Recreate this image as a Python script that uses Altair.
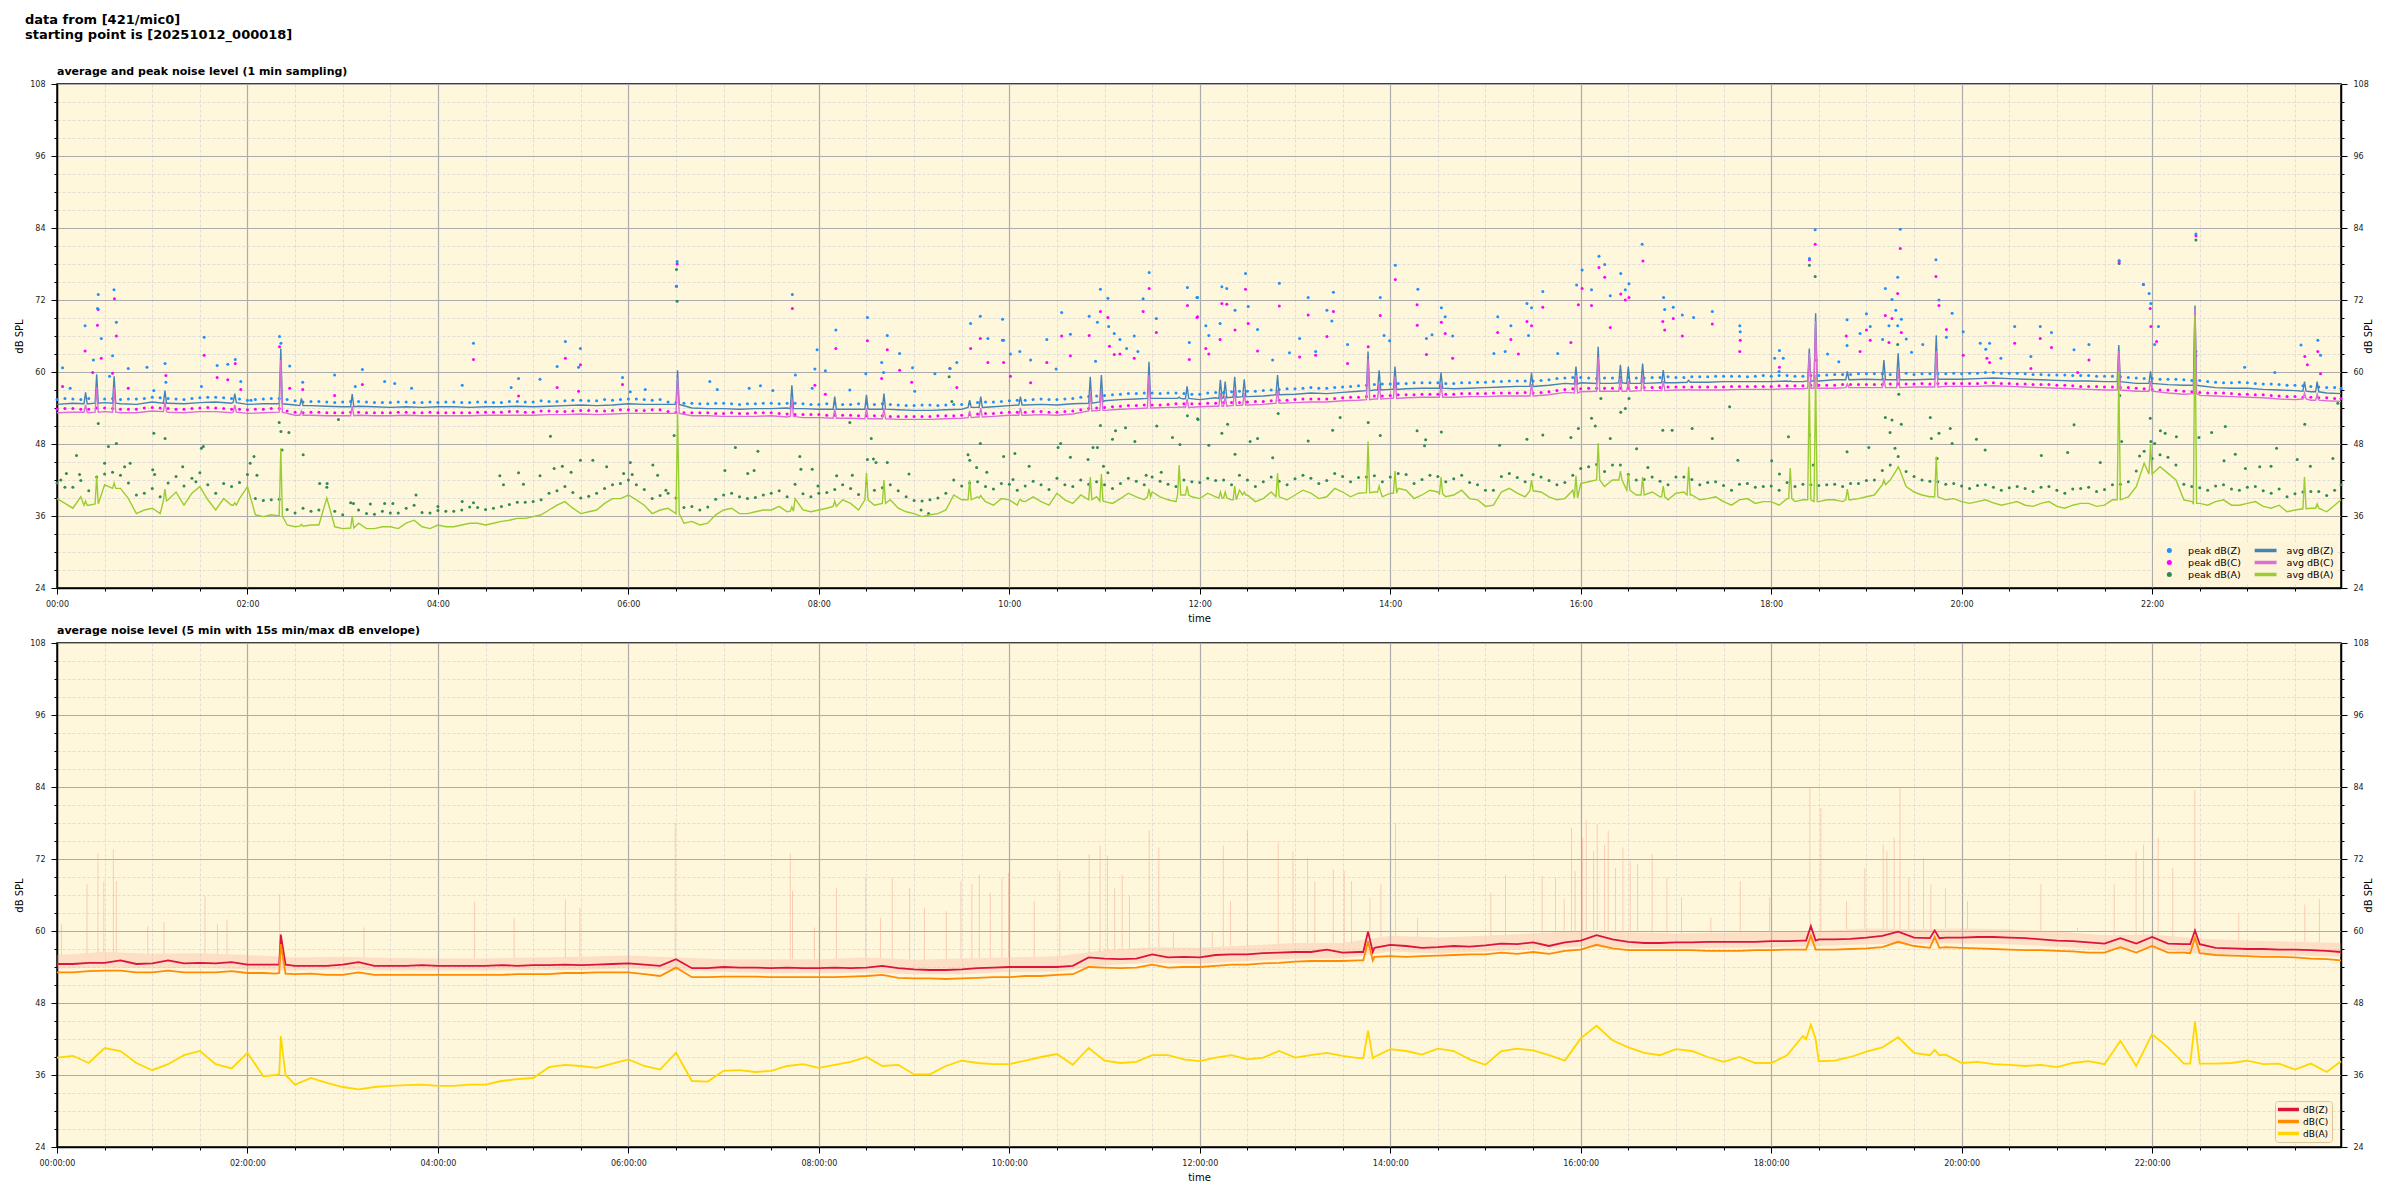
import altair as alt
import pandas as pd

# ---------------- sample positions (minutes after 00:00) ----------------
GRID = list(range(0, 1440, 10)) + [1439]
GRID5 = list(range(5, 1440, 10))
ENV_GRID = list(range(0, 1440, 30)) + [1439]
X_TICKS = list(range(0, 1440, 30))
Y_TICKS = list(range(24, 109, 3))

# ---------------- top panel: 1-min averages ----------------
AVG_Z = [54.6, 54.8, 54.7, 54.9, 54.7, 54.6, 55.0, 54.8, 54.7, 54.9, 55.0, 54.8,
         54.6, 54.7, 54.9, 54.5, 54.4, 54.3, 54.2, 54.3, 54.2, 54.1, 54.2, 54.1,
         54.2, 54.2, 54.1, 54.2, 54.2, 54.3, 54.2, 54.3, 54.4, 54.5, 54.4, 54.5,
         54.7, 54.6, 54.6, 54.1, 54.0, 53.9, 53.9, 53.8, 53.9, 53.9, 54.0, 53.9,
         53.8, 53.9, 53.8, 53.8, 53.9, 53.7, 53.6, 53.6, 53.7, 53.8, 54.1, 54.2,
         54.4, 54.5, 54.6, 54.5, 54.7, 55.0, 55.2, 55.4, 55.5, 55.6, 55.6, 55.5,
         55.4, 55.7, 55.8, 55.9, 56.0, 56.2, 56.3, 56.5, 56.4, 56.6, 56.8, 57.0,
         57.1, 57.2, 57.3, 57.3, 57.2, 57.3, 57.4, 57.5, 57.6, 57.6, 57.8, 58.1,
         58.2, 58.0, 58.1, 58.2, 58.1, 58.2, 58.2, 58.3, 58.3, 58.4, 58.4, 58.4,
         58.4, 58.5, 58.4, 58.5, 58.7, 58.7, 58.8, 58.8, 58.8, 58.7, 58.8, 58.8,
         58.8, 58.9, 59.0, 58.9, 58.8, 58.7, 58.6, 58.5, 58.5, 58.4, 58.3, 58.1,
         58.0, 57.9, 57.8, 57.7, 57.4, 57.3, 57.3, 57.1, 57.0, 56.9, 56.7, 56.5,
         56.4]
AVG_C = [53.2, 53.3, 53.2, 53.4, 53.2, 53.2, 53.5, 53.3, 53.2, 53.4, 53.4, 53.2,
         53.1, 53.2, 53.3, 52.8, 52.8, 52.7, 52.7, 52.8, 52.7, 52.7, 52.8, 52.7,
         52.7, 52.7, 52.7, 52.8, 52.8, 52.8, 52.8, 52.9, 52.9, 53.0, 52.9, 53.0,
         53.1, 53.1, 53.1, 52.8, 52.7, 52.7, 52.6, 52.6, 52.6, 52.7, 52.5, 52.4,
         52.4, 52.3, 52.3, 52.2, 52.2, 52.1, 52.1, 52.1, 52.2, 52.3, 52.5, 52.6,
         52.8, 52.8, 52.9, 52.8, 53.0, 53.4, 53.6, 53.8, 53.9, 54.0, 54.1, 54.2,
         54.2, 54.3, 54.4, 54.5, 54.6, 54.8, 54.9, 55.0, 55.0, 55.2, 55.3, 55.5,
         55.6, 55.7, 55.8, 55.8, 55.8, 55.9, 55.9, 56.0, 56.0, 56.0, 56.2, 56.6,
         56.7, 56.8, 56.8, 56.8, 56.9, 56.9, 57.0, 57.0, 57.0, 57.0, 57.1, 57.1,
         57.1, 57.2, 57.2, 57.3, 57.3, 57.4, 57.4, 57.4, 57.5, 57.5, 57.5, 57.6,
         57.6, 57.6, 57.7, 57.6, 57.5, 57.4, 57.3, 57.2, 57.1, 57.0, 56.9, 56.8,
         56.6, 56.5, 56.3, 56.1, 56.0, 55.9, 55.8, 55.7, 55.5, 55.4, 55.3, 55.2,
         55.1]
AVG_A = [38.9, 37.3, 37.8, 41.2, 40.6, 36.4, 37.3, 38.7, 37.8, 40.9, 37.0, 37.8,
         40.9, 35.9, 36.0, 34.2, 34.5, 39.0, 33.9, 34.8, 33.9, 34.2, 34.8, 34.2,
         34.5, 34.2, 34.8, 34.5, 35.1, 35.6, 35.9, 37.0, 38.4, 36.4, 37.0, 38.9,
         39.5, 37.8, 37.0, 36.4, 35.1, 34.8, 37.0, 36.4, 36.7, 37.0, 36.7, 37.0,
         37.0, 37.6, 38.1, 38.7, 38.1, 37.3, 36.4, 36.2, 37.0, 38.7, 39.2, 37.8,
         38.7, 38.4, 38.4, 39.8, 38.1, 38.7, 38.4, 38.9, 39.2, 40.0, 38.7, 39.5,
         38.9, 39.2, 38.7, 39.5, 38.9, 39.2, 39.5, 39.8, 39.2, 40.0, 39.8, 40.0,
         39.8, 40.3, 39.5, 40.0, 39.5, 38.9, 37.6, 40.0, 39.8, 40.3, 39.2, 38.9,
         41.4, 42.0, 42.0, 40.3, 39.5, 39.2, 39.8, 39.5, 38.9, 38.4, 38.7, 38.1,
         38.4, 38.9, 38.7, 38.4, 38.7, 38.7, 39.2, 41.2, 43.7, 40.0, 39.2, 38.7,
         38.4, 38.4, 38.2, 38.1, 37.8, 38.1, 37.6, 37.8, 38.1, 37.8, 38.7, 40.9,
         43.1, 43.1, 38.7, 38.1, 38.4, 37.8, 38.1, 37.6, 37.8, 37.0, 37.3, 36.7,
         38.7]
AVG_A5 = [38.1, 39.2, 40.0, 40.9, 38.9, 37.0, 36.4, 40.0, 39.8, 38.7, 38.9, 38.9,
          36.2, 36.2, 34.5, 34.8, 34.5, 34.2, 35.9, 33.9, 34.2, 33.9, 35.3, 33.9,
          34.2, 34.5, 34.8, 34.8, 35.3, 35.6, 36.2, 37.8, 37.3, 36.7, 38.1, 38.9,
          38.7, 36.4, 37.3, 34.8, 34.5, 36.2, 37.3, 36.4, 37.0, 37.6, 38.9, 36.7,
          37.3, 38.7, 37.0, 37.8, 38.7, 36.7, 35.9, 36.4, 39.5, 39.0, 38.4, 38.9,
          37.8, 39.2, 37.8, 38.7, 39.5, 39.2, 38.1, 39.8, 38.7, 39.2, 38.4, 39.2,
          39.8, 39.5, 40.3, 38.4, 40.0, 38.7, 40.3, 38.9, 40.6, 39.2, 40.0, 39.2,
          40.6, 38.9, 40.3, 39.2, 40.3, 38.7, 37.8, 40.6, 39.2, 40.0, 38.7, 40.3,
          41.7, 40.9, 42.0, 39.5, 40.0, 38.7, 40.0, 38.7, 39.2, 37.8, 38.9, 38.4,
          37.8, 38.4, 38.7, 38.7, 38.4, 38.9, 39.5, 42.0, 40.9, 39.5, 39.2, 38.9,
          38.1, 38.7, 37.8, 38.4, 37.6, 38.4, 37.3, 38.1, 37.6, 38.7, 39.2, 44.8,
          44.2, 42.0, 38.4, 37.8, 38.7, 37.8, 38.4, 37.3, 36.7, 37.5, 37.6, 37.8]
# short spikes: (minute, Z base, Z peak, C base, C peak, A base, A peak)
TOP_SPIKES = [
    (18, 54.7, 56.6, 53.3, 54.5, 37.8, 38.5), (25, 54.8, 59.6, 53.3, 57.5, 38.0, 42.6),
    (36, 54.8, 59.3, 53.3, 57.4, 40.6, 41.5), (68, 54.8, 56.9, 53.4, 55.0, 38.5, 40.5),
    (112, 54.9, 56.4, 53.3, 54.5, 37.8, 38.2), (141, 54.7, 63.9, 53.3, 62.0, 36.0, 47.3),
    (154, 54.4, 55.6, 52.8, 53.5, 34.3, 34.6), (186, 54.2, 56.3, 52.7, 54.3, 34.0, 36.0),
    (391, 54.6, 60.3, 53.1, 59.0, 36.4, 53.1), (463, 53.9, 57.8, 52.6, 55.5, 36.8, 37.5),
    (490, 53.8, 55.9, 52.3, 53.8, 37.6, 38.5), (510, 53.8, 56.2, 52.2, 54.0, 38.7, 43.2),
    (521, 53.8, 56.4, 52.2, 54.0, 38.1, 42.0), (575, 54.1, 55.3, 52.4, 53.5, 38.7, 42.0),
    (582, 54.1, 55.9, 52.5, 54.0, 39.0, 39.4), (607, 54.5, 55.9, 52.8, 54.0, 38.5, 38.8),
    (651, 54.8, 59.2, 53.5, 56.5, 38.7, 42.5), (658, 55.0, 59.5, 53.6, 57.0, 38.5, 43.0),
    (688, 55.6, 61.7, 54.0, 59.5, 39.2, 40.5), (707, 55.6, 55.8, 54.1, 54.2, 39.5, 44.5),
    (712, 55.6, 57.6, 54.1, 55.5, 39.5, 41.0), (733, 55.6, 58.7, 54.3, 56.5, 39.0, 40.0),
    (736, 55.7, 58.4, 54.3, 56.0, 39.0, 40.0), (742, 55.8, 59.2, 54.4, 57.0, 38.7, 41.0),
    (748, 55.9, 58.8, 54.5, 56.5, 39.5, 40.0), (769, 56.2, 59.5, 54.8, 57.0, 39.2, 43.1),
    (826, 56.9, 63.4, 55.4, 62.2, 39.9, 48.4), (833, 57.0, 60.3, 55.5, 58.0, 40.0, 41.0),
    (843, 57.1, 60.9, 55.6, 59.3, 39.8, 43.5), (872, 57.3, 59.9, 55.8, 58.0, 39.7, 42.5),
    (929, 57.6, 59.8, 56.0, 58.0, 40.2, 42.0), (957, 58.0, 60.9, 56.5, 59.5, 39.0, 42.7),
    (971, 58.1, 64.2, 56.8, 62.5, 42.0, 48.1), (985, 58.2, 61.2, 56.8, 59.0, 42.0, 43.5),
    (990, 58.1, 60.9, 56.8, 58.5, 40.3, 43.0), (999, 58.1, 61.4, 56.9, 59.5, 39.5, 42.5),
    (1012, 58.2, 60.3, 56.9, 58.5, 39.2, 41.0), (1028, 58.3, 58.6, 57.0, 57.1, 39.5, 44.2),
    (1092, 58.4, 58.5, 57.2, 57.2, 38.9, 44.0), (1104, 58.5, 63.9, 57.3, 63.1, 38.7, 58.5),
    (1108, 58.5, 69.8, 57.3, 68.5, 38.4, 59.5), (1128, 58.7, 60.1, 57.4, 58.0, 38.7, 40.5),
    (1151, 58.7, 62.0, 57.4, 59.0, 41.2, 42.0), (1160, 58.7, 63.1, 57.4, 60.5, 43.7, 44.2),
    (1184, 58.8, 66.1, 57.5, 63.5, 39.2, 45.9), (1299, 58.4, 64.5, 57.0, 63.5, 38.7, 60.0),
    (1319, 58.1, 60.1, 56.8, 58.5, 43.0, 48.0), (1347, 57.8, 71.1, 56.4, 70.5, 38.1, 69.5),
    (1416, 56.8, 58.4, 55.5, 56.5, 37.2, 42.5), (1424, 56.7, 58.4, 55.3, 56.3, 37.3, 38.0),
]

# ---------------- top panel: 1-min peaks ----------------
BAND_Z = [55.4, 55.5, 55.6, 55.5, 55.4, 55.5, 55.8, 55.6, 55.4, 55.7, 55.8, 55.6,
          55.3, 55.5, 55.6, 55.2, 55.1, 55.0, 55.0, 55.1, 54.9, 54.9, 55.0, 54.9,
          54.9, 55.0, 54.9, 55.0, 54.9, 55.1, 55.0, 55.1, 55.2, 55.3, 55.2, 55.3,
          55.5, 55.4, 55.4, 54.9, 54.8, 54.7, 54.8, 54.6, 54.7, 54.8, 54.8, 54.7,
          54.6, 54.7, 54.6, 54.7, 54.7, 54.5, 54.4, 54.5, 54.5, 54.6, 54.9, 55.0,
          55.2, 55.3, 55.5, 55.4, 55.6, 55.9, 56.1, 56.3, 56.4, 56.5, 56.5, 56.4,
          56.3, 56.6, 56.7, 56.8, 56.9, 57.1, 57.2, 57.4, 57.3, 57.5, 57.7, 57.9,
          58.0, 58.1, 58.2, 58.2, 58.1, 58.2, 58.3, 58.4, 58.5, 58.5, 58.7, 59.0,
          59.1, 58.9, 59.0, 59.1, 59.0, 59.1, 59.1, 59.2, 59.2, 59.3, 59.3, 59.3,
          59.3, 59.4, 59.3, 59.4, 59.6, 59.6, 59.7, 59.7, 59.7, 59.6, 59.7, 59.7,
          59.7, 59.8, 59.9, 59.8, 59.7, 59.6, 59.5, 59.4, 59.4, 59.3, 59.2, 59.0,
          58.9, 58.8, 58.7, 58.6, 58.3, 58.2, 58.2, 58.0, 57.9, 57.8, 57.6, 57.4,
          57.3]
BAND_Z5 = [55.6, 55.4, 55.7, 55.6, 55.5, 55.6, 55.7, 55.5, 55.6, 55.8, 55.7, 55.5,
           55.4, 55.6, 55.4, 55.0, 55.1, 54.9, 55.1, 55.0, 54.9, 55.0, 54.9, 55.0,
           55.0, 54.9, 55.0, 54.9, 55.1, 55.0, 55.2, 55.1, 55.3, 55.2, 55.4, 55.4,
           55.5, 55.3, 55.0, 54.8, 54.7, 54.8, 54.7, 54.7, 54.8, 54.7, 54.8, 54.6,
           54.7, 54.6, 54.7, 54.6, 54.6, 54.4, 54.5, 54.4, 54.6, 54.7, 55.0, 55.1,
           55.3, 55.4, 55.4, 55.5, 55.8, 56.0, 56.2, 56.4, 56.5, 56.4, 56.5, 56.3,
           56.5, 56.6, 56.8, 56.8, 57.0, 57.2, 57.3, 57.3, 57.4, 57.6, 57.8, 58.0,
           58.1, 58.2, 58.2, 58.1, 58.2, 58.3, 58.4, 58.5, 58.5, 58.6, 58.9, 59.1,
           59.0, 59.0, 59.1, 59.0, 59.1, 59.2, 59.1, 59.2, 59.3, 59.3, 59.2, 59.4,
           59.4, 59.3, 59.4, 59.5, 59.6, 59.7, 59.7, 59.6, 59.8, 59.7, 59.7, 59.8,
           59.8, 59.9, 59.8, 59.8, 59.6, 59.5, 59.5, 59.4, 59.3, 59.3, 59.1, 58.9,
           58.8, 58.8, 58.6, 58.4, 58.2, 58.3, 58.1, 58.0, 57.8, 57.7, 57.5, 57.4]
BAND_C = [53.8, 53.9, 53.8, 54.0, 53.8, 53.8, 54.1, 53.9, 53.8, 54.0, 54.0, 53.8,
          53.7, 53.8, 53.9, 53.3, 53.3, 53.2, 53.2, 53.3, 53.2, 53.2, 53.3, 53.2,
          53.2, 53.2, 53.2, 53.3, 53.3, 53.4, 53.3, 53.5, 53.4, 53.6, 53.5, 53.6,
          53.7, 53.6, 53.7, 53.3, 53.2, 53.2, 53.1, 53.1, 53.2, 53.2, 53.0, 52.9,
          52.9, 52.8, 52.8, 52.7, 52.7, 52.6, 52.6, 52.6, 52.7, 52.8, 53.0, 53.1,
          53.3, 53.3, 53.4, 53.3, 53.5, 53.9, 54.1, 54.3, 54.4, 54.5, 54.6, 54.7,
          54.7, 54.8, 54.9, 55.0, 55.1, 55.3, 55.4, 55.5, 55.5, 55.7, 55.8, 56.0,
          56.1, 56.2, 56.3, 56.3, 56.3, 56.4, 56.4, 56.5, 56.5, 56.5, 56.7, 57.1,
          57.2, 57.3, 57.3, 57.3, 57.4, 57.4, 57.5, 57.5, 57.5, 57.5, 57.6, 57.6,
          57.6, 57.7, 57.7, 57.8, 57.8, 57.9, 57.9, 57.9, 58.0, 58.0, 58.0, 58.1,
          58.1, 58.1, 58.2, 58.1, 58.0, 57.9, 57.8, 57.7, 57.6, 57.5, 57.4, 57.3,
          57.1, 57.0, 56.8, 56.6, 56.5, 56.4, 56.3, 56.2, 56.0, 55.9, 55.8, 55.7,
          55.6]
BAND_C5 = [53.9, 53.8, 54.0, 53.9, 53.8, 54.0, 54.0, 53.8, 53.9, 54.1, 53.9, 53.8,
           53.8, 53.9, 53.5, 53.2, 53.3, 53.2, 53.3, 53.2, 53.2, 53.3, 53.2, 53.3,
           53.2, 53.2, 53.3, 53.3, 53.4, 53.3, 53.5, 53.4, 53.5, 53.6, 53.5, 53.7,
           53.6, 53.7, 53.4, 53.2, 53.2, 53.1, 53.2, 53.1, 53.2, 53.1, 52.9, 52.9,
           52.8, 52.8, 52.7, 52.7, 52.6, 52.6, 52.6, 52.7, 52.7, 52.9, 53.1, 53.2,
           53.3, 53.4, 53.3, 53.4, 53.7, 54.0, 54.2, 54.4, 54.5, 54.5, 54.7, 54.7,
           54.8, 54.9, 54.9, 55.1, 55.2, 55.3, 55.5, 55.5, 55.6, 55.8, 55.9, 56.0,
           56.2, 56.2, 56.3, 56.3, 56.4, 56.4, 56.5, 56.5, 56.6, 56.6, 56.9, 57.2,
           57.3, 57.3, 57.3, 57.4, 57.4, 57.5, 57.5, 57.5, 57.5, 57.6, 57.6, 57.6,
           57.7, 57.7, 57.8, 57.8, 57.9, 57.9, 57.9, 58.0, 58.0, 58.1, 58.1, 58.1,
           58.1, 58.2, 58.1, 58.0, 57.9, 57.9, 57.8, 57.6, 57.6, 57.5, 57.4, 57.2,
           57.0, 56.9, 56.7, 56.5, 56.5, 56.3, 56.2, 56.1, 55.9, 55.8, 55.7, 55.6]
BAND_A = [41.5, 40.8, 40.2, 43.0, 42.8, 39.5, 40.6, 41.5, 41.0, 43.2, 39.8, 40.9,
          42.9, 38.6, 38.8, 36.5, 36.8, 40.8, 36.2, 37.0, 36.3, 36.5, 37.3, 36.6,
          36.9, 36.8, 37.5, 37.1, 37.6, 38.3, 38.4, 39.8, 40.9, 39.0, 39.8, 41.2,
          42.0, 40.4, 39.4, 39.0, 37.6, 37.5, 39.5, 39.2, 39.1, 39.8, 39.2, 39.7,
          39.8, 40.4, 40.6, 41.4, 40.7, 40.2, 38.6, 38.7, 39.8, 41.0, 41.7, 40.5,
          41.3, 41.0, 41.2, 42.3, 40.9, 41.3, 41.2, 41.4, 41.8, 42.5, 41.3, 42.0,
          41.6, 41.9, 41.2, 42.0, 41.7, 41.8, 42.2, 42.3, 41.9, 42.6, 42.4, 42.7,
          42.5, 42.9, 42.1, 42.6, 42.2, 41.6, 40.3, 42.6, 42.4, 42.9, 41.9, 41.6,
          43.9, 44.6, 44.5, 42.9, 42.1, 41.8, 42.5, 42.1, 41.6, 41.1, 41.3, 40.8,
          41.0, 41.6, 41.3, 41.1, 41.3, 41.4, 41.9, 43.6, 45.9, 42.6, 41.8, 41.3,
          41.0, 41.1, 40.8, 40.7, 40.6, 40.8, 40.3, 40.5, 40.8, 40.4, 41.3, 43.5,
          45.6, 45.8, 41.3, 40.7, 41.0, 40.5, 40.8, 40.2, 40.5, 39.7, 40.1, 39.4,
          41.2]
BAND_A5 = [40.8, 41.9, 42.5, 43.3, 41.5, 39.8, 39.2, 42.6, 42.3, 41.2, 41.4, 41.6,
           38.9, 38.7, 37.1, 37.3, 37.0, 36.8, 38.2, 36.4, 36.8, 36.5, 37.8, 36.5,
           36.8, 37.0, 37.4, 37.3, 37.9, 38.3, 38.7, 40.2, 39.9, 39.3, 40.6, 41.4,
           41.2, 38.9, 39.8, 37.4, 37.0, 38.8, 39.8, 38.9, 39.5, 40.2, 41.3, 39.2,
           39.9, 41.2, 39.6, 40.3, 41.2, 39.2, 38.5, 39.0, 42.0, 41.5, 40.9, 41.4,
           40.3, 41.8, 40.4, 41.2, 42.0, 41.7, 40.6, 42.3, 41.2, 41.8, 40.9, 41.7,
           42.3, 42.0, 42.8, 40.9, 42.5, 41.2, 42.8, 41.4, 43.1, 41.7, 42.5, 41.7,
           43.1, 41.4, 42.8, 41.7, 42.8, 41.2, 40.3, 43.1, 41.7, 42.5, 41.2, 42.8,
           44.2, 43.4, 44.5, 42.0, 42.5, 41.2, 42.5, 41.2, 41.7, 40.3, 41.4, 40.9,
           40.3, 40.9, 41.2, 41.2, 40.9, 41.4, 42.0, 44.5, 43.4, 42.0, 41.7, 41.4,
           40.6, 41.2, 40.3, 40.9, 40.1, 40.9, 39.8, 40.6, 40.1, 41.2, 41.7, 46.8,
           46.2, 44.5, 40.9, 40.3, 41.2, 40.3, 40.9, 39.8, 39.2, 40.0, 40.1, 40.3]
OUT_Z = [
    [3.5, 60.7], [8.3, 57.3], [17.7, 67.7], [22.9, 62.0], [26.0, 72.9], [25.5, 70.6], [27.9, 65.6],
    [33.1, 59.3], [35.9, 73.7], [37.4, 68.3], [35.0, 62.7], [44.9, 60.6], [56.7, 60.8], [61.0, 56.9],
    [68.1, 61.4], [68.6, 58.3], [92.7, 65.8], [91.0, 57.6], [100.9, 61.1], [107.6, 61.3], [112.3, 62.1],
    [115.8, 58.4], [122.2, 55.3], [140.2, 65.9], [141.1, 64.8], [146.6, 61.0], [154.8, 58.3],
    [174.9, 59.5], [187.9, 57.6], [192.4, 60.4], [206.4, 58.4], [212.8, 58.1], [223.4, 57.3],
    [255.3, 57.8], [262.4, 64.8], [286.1, 57.4], [290.8, 58.9], [304.3, 58.8], [315.1, 60.9],
    [320.3, 65.1], [329.8, 63.9], [328.6, 60.8], [356.3, 59.1],
    [361.2, 56.7], [370.6, 57.1], [390.7, 78.4], [390.3, 74.3], [411.3, 58.4], [416.0, 57.1],
    [436.1, 57.3], [443.2, 57.7], [451.0, 56.9], [463.3, 72.9], [465.2, 59.5], [475.8, 57.3],
    [478.9, 63.7], [477.5, 60.5], [484.1, 60.2], [490.7, 67.0], [499.5, 57.0], [509.6, 59.7],
    [510.6, 69.1], [519.6, 61.6], [520.8, 59.9], [523.1, 66.1], [530.9, 63.1], [539.0, 60.7],
    [540.4, 56.8], [553.1, 59.7], [562.6, 60.6], [566.9, 61.6], [575.6, 68.1], [581.7, 69.3],
    [586.5, 65.6], [595.7, 68.8], [596.4, 65.3], [600.7, 63.0], [606.6, 63.4], [613.4, 62.0],
    [623.6, 65.4], [629.5, 60.5], [633.0, 69.9], [638.5, 66.3], [654.3, 61.8], [650.3, 69.3],
    [655.5, 68.3], [657.4, 73.8], [662.1, 72.3], [662.6, 67.6], [666.1, 66.4], [669.7, 65.4],
    [673.9, 63.9], [678.7, 66.0], [681.0, 63.4], [684.3, 72.2], [688.1, 76.6], [692.6, 68.9],
    [712.2, 74.1], [713.4, 64.9], [718.2, 72.4],
    [718.6, 72.4], [723.8, 67.7], [725.7, 66.1], [732.8, 68.1], [737.0, 73.9], [733.9, 74.2],
    [742.2, 70.3], [748.8, 76.4], [750.5, 70.9], [756.4, 67.1], [765.9, 62.0], [770.1, 74.8],
    [776.5, 63.2], [782.9, 65.6], [788.3, 72.4], [793.0, 63.4], [800.1, 70.3], [803.2, 68.5],
    [804.2, 73.3], [813.1, 64.6], [833.7, 72.4], [836.1, 66.1], [839.6, 65.2], [843.2, 77.8],
    [857.4, 73.8], [862.8, 65.6], [866.3, 66.2], [872.2, 70.7], [874.6, 69.2], [879.3, 66.0],
    [905.3, 63.1], [907.7, 69.2], [916.0, 67.7], [912.4, 63.4], [926.1, 71.4], [927.1, 66.1],
    [929.0, 70.7], [936.1, 73.4], [945.5, 63.1], [957.4, 74.5], [960.9, 77.0], [966.8, 73.7],
    [971.5, 79.3], [975.1, 77.9], [978.6, 72.7], [985.2, 76.4], [990.4, 74.7], [988.1, 73.7],
    [998.7, 81.3], [1012.2, 72.4], [1012.9, 70.4], [1018.3, 70.8], [1024.0, 69.5], [1031.1, 69.1],
    [1042.9, 70.1], [1060.2, 67.7], [1060.5, 66.7], [1082.2, 62.3], [1085.0, 60.1],
    [1085.2, 63.6], [1087.6, 62.3], [1104.1, 78.9], [1107.7, 83.7], [1108.4, 62.0], [1115.5, 63.0],
    [1122.6, 61.7], [1127.8, 68.7], [1127.8, 64.4], [1136.0, 66.4], [1140.0, 69.7], [1142.4, 67.6],
    [1150.2, 65.4], [1151.9, 73.9], [1154.2, 67.7], [1156.1, 72.1], [1158.5, 70.3], [1159.7, 67.7],
    [1161.3, 83.8], [1159.7, 75.8], [1162.0, 68.8], [1165.1, 65.5], [1168.4, 63.3], [1175.5, 64.6],
    [1183.8, 78.7], [1185.7, 72.0], [1190.4, 65.8], [1194.0, 69.8], [1201.0, 66.7], [1211.7, 64.8],
    [1215.2, 63.8], [1217.6, 64.8], [1224.7, 62.3], [1233.4, 67.6], [1243.6, 62.6], [1249.5, 67.6],
    [1256.6, 66.6], [1270.8, 63.7], [1280.2, 64.6], [1299.2, 78.6], [1314.5, 74.6], [1318.1, 73.1],
    [1319.2, 71.4], [1324.0, 67.6], [1321.6, 64.6], [1347.6, 83.0], [1347.6, 63.4], [1378.3, 60.8],
    [1397.3, 59.9], [1413.8, 64.5], [1424.4, 65.3], [1426.1, 62.8],
]
OUT_C = [
    [3.5, 57.6], [17.7, 63.5], [22.5, 59.9], [25.5, 67.8], [26.0, 70.4], [27.9, 62.3], [35.0, 59.8],
    [36.2, 72.2], [37.4, 66.0], [44.9, 57.3], [68.6, 59.4], [92.7, 62.8], [100.9, 59.1], [107.6, 58.7],
    [112.3, 61.4], [115.8, 57.1], [140.2, 64.2], [146.6, 57.3], [154.8, 57.1], [174.9, 56.1],
    [192.4, 57.9], [262.4, 62.1], [290.8, 56.0], [315.1, 57.4], [320.3, 62.3], [329.8, 61.2],
    [328.6, 56.8], [356.3, 57.9],
    [390.7, 78.0], [390.3, 74.3], [463.3, 70.6], [490.7, 63.9], [477.5, 57.8], [484.1, 56.3],
    [510.6, 65.2], [519.6, 58.9], [523.1, 63.7], [530.9, 60.3], [538.5, 58.3], [562.6, 60.6],
    [566.9, 57.4], [575.6, 63.9], [581.7, 65.6], [586.5, 61.6], [595.7, 65.3], [596.4, 61.6],
    [600.7, 59.3], [613.4, 58.2], [623.6, 61.6], [633.0, 66.0], [638.5, 62.7], [650.3, 66.1],
    [657.4, 70.1], [662.1, 69.1], [663.1, 64.3], [666.1, 62.9], [669.7, 63.0], [678.7, 62.3],
    [684.3, 70.1], [688.1, 73.9], [692.6, 66.6], [712.2, 71.1], [713.4, 62.1], [718.2, 69.1],
    [718.6, 69.2], [723.8, 63.9], [725.7, 63.0], [732.8, 65.4], [733.9, 71.4], [737.0, 71.3],
    [742.2, 67.0], [748.8, 73.8], [750.5, 68.1], [756.4, 63.5], [770.1, 71.0], [782.9, 62.5],
    [788.3, 69.5], [793.0, 62.8], [800.1, 65.9], [804.2, 70.1], [813.1, 61.4], [826.1, 64.2],
    [833.7, 69.4], [843.2, 75.4], [856.9, 71.2], [857.0, 67.8], [862.8, 62.9], [872.2, 68.3],
    [874.6, 66.4], [879.3, 62.3], [907.7, 66.6], [916.0, 65.4], [920.7, 63.0], [926.1, 68.4],
    [929.0, 67.7], [936.1, 70.8], [953.8, 64.9], [958.5, 71.2], [960.9, 73.9], [966.8, 71.1],
    [971.5, 77.4], [975.1, 75.8], [978.6, 67.4], [985.2, 73.0], [988.1, 72.0], [990.4, 72.4],
    [999.2, 78.5], [1011.7, 68.4], [1012.9, 67.0], [1018.3, 68.9], [1024.0, 66.0], [1042.9, 68.0],
    [1060.2, 63.4], [1060.5, 65.3],
    [1085.2, 60.8], [1104.1, 78.7], [1107.7, 81.3], [1127.3, 66.0], [1136.0, 63.4], [1140.0, 67.0],
    [1142.4, 65.3], [1151.9, 69.4], [1154.2, 64.9], [1156.1, 68.9], [1159.7, 73.1], [1161.3, 80.6],
    [1162.0, 66.6], [1183.8, 75.9], [1185.7, 71.1], [1190.4, 67.1], [1201.0, 62.8], [1215.9, 62.3],
    [1217.6, 61.6], [1233.4, 64.8], [1243.6, 60.6], [1249.5, 65.6], [1256.6, 64.1], [1273.1, 59.9],
    [1280.2, 62.0], [1299.2, 78.4], [1314.5, 74.6], [1318.8, 70.6], [1319.2, 67.6], [1322.8, 65.1],
    [1347.6, 82.7], [1347.6, 62.7], [1416.2, 62.6], [1417.8, 61.2], [1424.4, 63.4], [1426.1, 59.7],
]
OUT_A = [
    [26.0, 51.4], [32.4, 47.6], [37.4, 48.1], [61.0, 49.8], [68.1, 48.9], [91.0, 47.3], [92.2, 47.6],
    [12.3, 46.1], [2.4, 42.0], [5.9, 43.1], [14.2, 42.9], [30.0, 44.8], [42.6, 44.2], [46.1, 44.8],
    [60.3, 43.7], [61.5, 42.9], [79.2, 44.2], [87.5, 41.7], [121.7, 44.8], [124.1, 45.9], [126.0, 42.8],
    [140.0, 51.6], [141.1, 50.1], [146.1, 49.9], [141.8, 47.0], [155.1, 46.2], [165.5, 41.4],
    [170.2, 41.4], [177.3, 52.1], [186.8, 38.1], [197.4, 38.0], [206.4, 38.1], [211.6, 38.1],
    [226.2, 39.5], [240.0, 37.6], [255.3, 38.4], [262.4, 38.2], [279.0, 42.7], [290.8, 43.2],
    [281.3, 41.2], [293.9, 41.3], [304.3, 42.7], [310.9, 49.3], [313.2, 43.9], [318.4, 44.3],
    [323.9, 43.3], [329.8, 45.3], [337.6, 45.3], [346.3, 44.2], [357.0, 43.1],
    [390.3, 77.1], [390.7, 71.8], [388.8, 49.4], [361.2, 44.9], [362.4, 42.9], [375.4, 44.5],
    [378.4, 42.8], [383.6, 40.3], [427.4, 47.4], [441.6, 46.8], [420.8, 43.6], [435.2, 43.1],
    [439.2, 43.6], [468.0, 45.9], [468.7, 43.8], [475.8, 43.8], [479.4, 41.0], [491.2, 42.7],
    [499.5, 51.6], [501.1, 42.8], [510.6, 45.4], [513.0, 48.9], [514.4, 45.5], [516.0, 44.9],
    [523.1, 44.9], [536.8, 43.0], [544.4, 37.0], [549.1, 36.4], [563.8, 55.1], [562.1, 59.2],
    [574.0, 46.2], [575.1, 45.3], [579.4, 44.1], [581.7, 48.1], [585.8, 43.3], [596.4, 45.9],
    [603.5, 46.4], [612.5, 44.3], [602.3, 42.1], [630.7, 47.4], [632.3, 48.1], [638.5, 45.8],
    [649.6, 45.4], [652.7, 47.4], [655.5, 47.4], [657.4, 51.1], [659.3, 44.3], [662.1, 43.2],
    [665.0, 48.8], [666.9, 50.2], [673.2, 50.7], [679.1, 48.4], [686.2, 42.8], [692.9, 51.0],
    [695.7, 43.3], [702.8, 49.1], [707.5, 47.9], [712.2, 52.7], [718.9, 52.1],
    [718.6, 52.2], [733.9, 49.8], [737.5, 51.3], [725.7, 47.8], [751.7, 48.4], [756.4, 48.9],
    [742.2, 46.3], [769.4, 53.1], [765.9, 45.7], [788.3, 48.5], [803.7, 50.3], [808.4, 52.4],
    [826.1, 51.6], [833.7, 49.4], [856.9, 50.2], [861.6, 47.7], [862.3, 48.7], [872.2, 50.0],
    [908.9, 47.8], [926.1, 48.8], [936.1, 49.5], [953.8, 49.1], [958.5, 50.6], [966.8, 52.3],
    [969.2, 51.0], [972.7, 55.6], [985.2, 53.3], [988.1, 53.9], [990.4, 55.6], [978.6, 48.9],
    [1011.7, 50.3], [1017.6, 50.3], [1030.2, 50.6], [1042.9, 48.9], [1053.8, 54.2], [1059.0, 45.3],
    [1080.3, 45.2], [1002.3, 44.1], [995.2, 47.2],
    [1104.1, 77.8], [1107.7, 75.9], [1104.1, 49.5], [1090.9, 49.2], [1085.2, 43.0], [1106.5, 44.5],
    [1127.8, 46.7], [1141.5, 47.4], [1151.9, 52.4], [1154.9, 49.9], [1156.1, 52.0], [1158.0, 47.3],
    [1160.4, 56.3], [1162.0, 51.3], [1159.7, 64.6], [1180.2, 52.4], [1180.9, 48.9], [1185.7, 49.8],
    [1184.5, 45.6], [1192.8, 50.6], [1194.0, 48.1], [1209.3, 48.8], [1214.8, 47.0], [1250.2, 46.1],
    [1266.8, 46.6], [1270.8, 51.2], [1287.3, 44.9], [1299.2, 78.1], [1299.6, 56.1], [1300.8, 48.4],
    [1312.1, 46.0], [1318.8, 52.3], [1319.2, 48.4], [1321.6, 48.1], [1325.2, 50.2], [1328.2, 49.8],
    [1335.3, 49.2], [1347.6, 82.0], [1349.5, 49.1], [1357.5, 49.9], [1366.1, 50.9], [1365.3, 45.2],
    [1372.4, 46.3], [1378.8, 43.9], [1387.8, 44.2], [1394.9, 44.3], [1398.4, 47.3], [1411.4, 45.4],
    [1416.2, 51.3], [1419.7, 44.3], [1433.9, 45.6], [1437.0, 54.8],
]

# ---------------- bottom panel: 5-min averages ----------------
BOT_Z = [54.5, 54.5, 54.7, 54.7, 55.1, 54.5, 54.6, 55.1, 54.6, 54.7, 54.6, 54.8,
         54.4, 54.4, 54.4, 54.2, 54.2, 54.2, 54.4, 54.8, 54.2, 54.2, 54.2, 54.3,
         54.2, 54.2, 54.2, 54.2, 54.3, 54.2, 54.3, 54.3, 54.4, 54.3, 54.4, 54.5,
         54.6, 54.4, 54.2, 55.3, 53.8, 53.8, 54.0, 53.9, 53.9, 53.8, 53.9, 53.8,
         53.8, 53.9, 53.8, 53.9, 54.2, 53.8, 53.6, 53.5, 53.5, 53.6, 53.8, 53.9,
         54.0, 54.0, 54.0, 54.0, 54.2, 55.6, 55.4, 55.3, 55.4, 56.1, 55.6, 55.7,
         55.6, 56.0, 56.1, 56.1, 56.3, 56.4, 56.5, 56.5, 56.9, 56.4, 56.5, 57.2,
         57.7, 57.5, 57.2, 57.3, 57.5, 57.4, 57.6, 57.9, 57.8, 58.1, 57.5, 58.1,
         58.4, 59.3, 58.6, 58.2, 58.0, 58.0, 58.1, 58.1, 58.2, 58.2, 58.2, 58.2,
         58.3, 58.3, 58.4, 58.6, 58.6, 58.7, 58.9, 59.2, 59.9, 58.9, 58.8, 58.9,
         58.9, 59.0, 59.0, 58.9, 58.8, 58.6, 58.4, 58.3, 58.1, 57.9, 58.8, 57.9,
         59.0, 57.9, 57.8, 57.2, 57.2, 57.1, 57.0, 57.0, 56.9, 56.9, 56.8, 56.7,
         56.5]
BOT_C = [53.1, 53.1, 53.3, 53.4, 53.4, 53.1, 53.1, 53.4, 53.1, 53.1, 53.1, 53.3,
         53.0, 53.0, 53.0, 52.8, 52.9, 52.7, 52.7, 53.1, 52.7, 52.7, 52.7, 52.7,
         52.7, 52.7, 52.7, 52.7, 52.7, 52.8, 52.8, 52.8, 53.0, 53.0, 53.1, 53.1,
         53.1, 52.8, 52.5, 53.9, 52.3, 52.3, 52.4, 52.4, 52.4, 52.3, 52.3, 52.3,
         52.3, 52.3, 52.4, 52.5, 52.7, 52.2, 52.1, 52.1, 52.0, 52.1, 52.2, 52.3,
         52.3, 52.5, 52.5, 52.7, 52.8, 54.0, 53.9, 53.8, 53.9, 54.4, 53.9, 54.0,
         54.0, 54.2, 54.4, 54.4, 54.6, 54.7, 54.9, 55.0, 55.0, 55.0, 55.1, 55.7,
         55.8, 55.7, 55.8, 55.9, 56.0, 56.1, 56.1, 56.4, 56.2, 56.5, 56.2, 56.7,
         56.9, 57.7, 57.1, 56.8, 56.8, 56.8, 56.8, 56.8, 56.7, 56.7, 56.7, 56.8,
         56.8, 56.9, 56.9, 56.9, 56.9, 57.0, 57.1, 57.3, 58.2, 57.5, 57.2, 57.3,
         57.2, 57.1, 57.0, 56.9, 56.8, 56.8, 56.7, 56.6, 56.4, 56.4, 57.3, 56.4,
         57.5, 56.4, 56.4, 56.1, 56.0, 55.9, 55.8, 55.7, 55.7, 55.6, 55.4, 55.3,
         55.1]
BOT_A = [38.9, 39.2, 38.0, 40.5, 40.0, 38.0, 36.8, 37.8, 39.3, 40.0, 37.8, 37.1,
         39.7, 35.8, 36.1, 34.4, 35.5, 34.7, 34.0, 33.6, 34.0, 34.2, 34.3, 34.4,
         34.2, 34.2, 34.4, 34.4, 35.0, 35.3, 35.5, 37.3, 37.7, 37.5, 37.2, 37.9,
         38.6, 37.5, 36.9, 39.7, 35.0, 34.9, 36.7, 36.8, 36.5, 36.7, 37.5, 37.8,
         37.2, 37.7, 38.2, 39.0, 37.5, 37.7, 36.1, 36.1, 37.5, 38.4, 38.0, 37.8,
         37.8, 38.4, 39.0, 39.5, 37.7, 40.5, 38.4, 38.0, 38.2, 39.3, 39.3, 38.6,
         38.3, 38.9, 39.3, 38.6, 38.9, 40.0, 38.9, 39.3, 39.7, 39.2, 38.8, 39.0,
         40.3, 40.0, 39.4, 40.4, 40.0, 38.6, 37.7, 40.0, 40.4, 40.1, 39.3, 38.4,
         42.1, 44.2, 41.8, 40.6, 39.7, 39.3, 40.3, 40.0, 39.0, 38.2, 39.0, 38.0,
         38.0, 39.3, 42.5, 38.3, 38.4, 39.0, 39.9, 40.6, 42.3, 39.7, 39.3, 39.4,
         38.0, 38.2, 37.8, 37.7, 37.5, 37.7, 37.3, 38.0, 38.3, 37.8, 41.7, 37.5,
         42.8, 40.6, 37.9, 37.8, 37.9, 38.0, 38.4, 37.8, 37.9, 36.9, 37.9, 36.5,
         38.3]
BOT_SPIKES = [
    (141, 54.4, 59.4, 52.9, 57.8, 36.0, 42.5), (826, 56.5, 59.9, 55.1, 58.3, 38.8, 43.4),
    (1105, 58.4, 60.8, 56.9, 59.2, 42.0, 44.4), (1183, 58.8, 60.1, 57.2, 59.0, 39.3, 40.2),
    (1347, 57.8, 60.1, 56.3, 58.9, 37.9, 44.9),
]
# 15 s min/max envelope of dB(Z): band every 30 min + individual maxima
ENV_HI = [56.0, 56.5, 56.2, 56.3, 56.0, 55.6, 55.7, 55.5, 55.4, 55.4, 55.6, 55.7, 55.9, 55.6,
          55.3, 55.3, 55.3, 55.6, 55.2, 55.4, 55.6, 55.8, 56.8, 57.3, 57.2, 57.6, 58.0, 58.0,
          59.2, 58.9, 59.2, 59.6, 60.0, 59.8, 59.6, 59.7, 59.8, 60.0, 60.4, 60.3, 60.4, 60.3,
          59.9, 59.3, 59.4, 58.7, 58.4, 58.2, 58.0]
ENV_LO = [53.7, 53.9, 53.8, 53.9, 53.6, 53.4, 53.6, 53.4, 53.4, 53.4, 53.5, 53.5, 53.8, 53.4,
          53.2, 53.0, 53.0, 53.1, 52.8, 52.8, 53.2, 53.2, 54.3, 54.7, 54.6, 55.0, 55.4, 55.4,
          56.6, 56.3, 56.6, 57.0, 57.4, 57.2, 57.1, 57.2, 57.3, 57.5, 57.8, 57.9, 57.9, 57.8,
          57.4, 56.9, 57.1, 56.2, 56.0, 55.9, 55.7]
ENV_SPIKES = [
    (2.8, 56.0, 61.1), (18.9, 56.2, 67.8), (25.8, 56.4, 73.0), (29.5, 56.4, 68.3), (35.5, 56.4, 73.6),
    (37.4, 56.4, 68.3), (57.2, 56.2, 60.8), (67.4, 56.2, 61.5), (93.2, 56.3, 65.8), (101.1, 56.2, 61.1),
    (107.1, 56.1, 61.9), (140.3, 56.0, 66.1), (193.4, 55.6, 60.6), (263.1, 55.4, 64.9), (288.0, 55.5, 62.2),
    (320.3, 55.6, 65.3), (329.5, 55.7, 63.9), (389.5, 55.6, 78.0), (462.0, 55.3, 73.0), (463.4, 55.3, 66.7),
    (477.2, 55.3, 60.6), (491.1, 55.4, 67.2), (509.5, 55.6, 68.9), (518.8, 55.5, 62.2), (526.2, 55.4, 68.9),
    (537.2, 55.2, 67.2), (546.5, 55.2, 63.9), (560.3, 55.3, 63.3), (569.5, 55.4, 68.3), (576.4, 55.4, 67.8),
    (581.1, 55.5, 69.4), (588.0, 55.5, 66.4), (595.4, 55.6, 68.9), (599.5, 55.6, 69.7), (615.7, 55.7, 65.0),
    (631.8, 55.8, 70.0), (650.3, 56.3, 72.8), (657.2, 56.5, 74.2), (661.8, 56.8, 72.5), (666.4, 56.9, 67.2),
    (671.1, 57.0, 69.4), (675.7, 57.1, 65.8), (688.1, 57.3, 76.7), (694.2, 57.3, 73.9), (703.4, 57.2, 60.0),
    (727.9, 57.3, 60.0), (734.8, 57.4, 74.2), (739.4, 57.5, 65.0), (750.0, 57.6, 76.7), (769.4, 57.8, 74.7),
    (778.7, 58.0, 73.3), (787.9, 58.0, 72.2), (792.5, 58.0, 68.3), (804.1, 58.0, 70.3), (811.0, 58.0, 70.0),
    (815.6, 58.0, 68.3), (827.2, 58.5, 65.6), (834.1, 59.0, 67.8), (843.3, 59.2, 78.0), (857.2, 59.0, 62.2),
    (903.4, 59.2, 66.4), (912.6, 59.3, 69.4), (935.7, 59.6, 69.2), (944.1, 59.7, 68.9), (949.6, 59.8, 65.3),
    (954.2, 59.9, 77.2), (956.5, 59.9, 70.0), (961.2, 60.0, 75.5), (963.5, 60.0, 78.5), (968.1, 60.1, 73.3),
    (970.4, 60.2, 77.8), (975.0, 60.0, 74.4), (977.3, 60.0, 76.7), (981.9, 59.9, 70.5), (986.6, 59.8, 73.9),
    (991.2, 59.8, 71.7), (995.8, 59.8, 71.1), (1005.0, 59.7, 72.8), (1014.3, 59.6, 68.9), (1023.5, 59.6, 65.6),
    (1042.0, 59.7, 62.2), (1060.5, 59.7, 68.3), (1079.0, 59.8, 65.6), (1104.4, 60.0, 84.0), (1111.3, 60.0, 80.5),
    (1127.5, 60.3, 65.0), (1139.0, 60.4, 70.5), (1150.6, 60.3, 74.4), (1152.9, 60.3, 73.3), (1157.5, 60.3, 75.5),
    (1161.2, 60.3, 84.0), (1166.7, 60.3, 68.9), (1176.0, 60.3, 72.2), (1180.6, 60.3, 67.8), (1189.8, 60.4, 67.2),
    (1203.7, 60.4, 65.0), (1249.9, 60.1, 67.8), (1273.0, 59.9, 60.5), (1296.1, 59.3, 67.8), (1309.9, 59.4, 73.3),
    (1314.6, 59.4, 74.4), (1323.8, 59.4, 75.5), (1333.0, 59.0, 70.5), (1346.9, 58.8, 83.5), (1374.6, 58.4, 62.8),
    (1416.2, 58.2, 64.4), (1425.4, 58.1, 65.3),
]

# ---------------- labels & colours ----------------
PEAK_DOMAIN = ["peak dB(Z)", "peak dB(C)", "peak dB(A)"]
PEAK_RANGE = ["#1e90ff", "#ff00ff", "#2e8b57"]
AVG_DOMAIN = ["avg dB(Z)", "avg dB(C)", "avg dB(A)"]
AVG_RANGE = ["#4682b4", "#da70d6", "#9acd32"]
BOT_DOMAIN = ["dB(Z)", "dB(C)", "dB(A)"]
BOT_RANGE = ["#dc143c", "#ff8c00", "#ffd700"]
ENV_COLOR = "#f4a98f"
BG = "#fff7dc"
LEG_FILL = "#fdf4da"
LEG_STROKE = "#dcc79c"
FONT = "DejaVu Sans"


def with_spikes(grids, spikes, bi, pi, half):
    pts = {}
    for grid, vals in grids:
        pts.update(zip(grid, vals))
    for sp in spikes:
        m = sp[0]
        pts[m - half] = sp[bi]
        pts[m + half] = sp[bi]
        pts[m] = sp[pi]
    return sorted(pts.items())


rows = []
for name, grids, bi, pi in [("avg dB(Z)", [(GRID, AVG_Z)], 1, 2),
                            ("avg dB(C)", [(GRID, AVG_C)], 3, 4),
                            ("avg dB(A)", [(GRID, AVG_A), (GRID5, AVG_A5)], 5, 6)]:
    for t, v in with_spikes(grids, TOP_SPIKES, bi, pi, 1):
        rows.append({"t": t, "v": v, "s": name})
top_lines_df = pd.DataFrame(rows)

rows = []
for name, band, band5, outs in [("peak dB(A)", BAND_A, BAND_A5, OUT_A),
                                 ("peak dB(C)", BAND_C, BAND_C5, OUT_C),
                                 ("peak dB(Z)", BAND_Z, BAND_Z5, OUT_Z)]:
    for t, v in list(zip(GRID, band)) + list(zip(GRID5, band5)) + [tuple(o) for o in outs]:
        rows.append({"t": t, "v": v, "s": name})
peaks_df = pd.DataFrame(rows)

rows = []
for name, vals, bi, pi in [("dB(Z)", BOT_Z, 1, 2), ("dB(C)", BOT_C, 3, 4), ("dB(A)", BOT_A, 5, 6)]:
    for t, v in with_spikes([(GRID, vals)], BOT_SPIKES, bi, pi, 3):
        rows.append({"t": t, "v": v, "s": name})
bot_lines_df = pd.DataFrame(rows)
env_df = pd.DataFrame({"t": ENV_GRID, "lo": ENV_LO, "hi": ENV_HI})
env_sp_df = pd.DataFrame(ENV_SPIKES, columns=["t", "base", "peak"])

# ---------------- scales & axes ----------------
XS = alt.Scale(domain=[0, 1439], nice=False, zero=False)
YS = alt.Scale(domain=[24, 108], nice=False, zero=False)
MAJ_X = "datum.value % 120 === 0"
MAJ_Y = "datum.value % 12 === 0"


def cond(test, a, b):
    return {"condition": {"test": test, "value": a}, "value": b}


def x_axis(suffix):
    return alt.Axis(
        values=X_TICKS, orient="bottom", title="time",
        labelExpr=MAJ_X + " ? (floor(datum.value / 60) < 10 ? '0' : '') + floor(datum.value / 60) + '" + suffix + "' : ''",
        labelFont=FONT, labelFontSize=8, labelColor="#222222", labelPadding=6,
        labelOverlap=False, labelFlush=False,
        titleFont=FONT, titleFontSize=10, titleFontWeight="normal", titleColor="black", titlePadding=5,
        grid=True, gridColor=cond(MAJ_X, "#ababab", "#d2d2d2"), gridDash=cond(MAJ_X, [], [3, 2]),
        gridWidth=cond(MAJ_X, 1.2, 0.7), gridOpacity=1,
        ticks=True, tickSize=cond(MAJ_X, 6, 3), tickColor="black", tickWidth=1,
        domain=True, domainColor="black", domainWidth=1.5)


def y_axis(orient):
    return alt.Axis(
        values=Y_TICKS, orient=orient, title="dB SPL",
        labelExpr=MAJ_Y + " ? datum.label : ''",
        labelFont=FONT, labelFontSize=8, labelColor="#222222", labelPadding=6,
        labelOverlap=False, labelFlush=False,
        titleFont=FONT, titleFontSize=10, titleFontWeight="normal", titleColor="black",
        titlePadding=5, titleAngle=270,
        grid=(orient == "left"), gridColor=cond(MAJ_Y, "#ababab", "#d2d2d2"),
        gridDash=cond(MAJ_Y, [], [3, 2]), gridWidth=cond(MAJ_Y, 1.2, 0.7), gridOpacity=1,
        ticks=True, tickSize=cond(MAJ_Y, 6, 3), tickColor="black", tickWidth=1,
        domain=True, domainColor="black", domainWidth=1.5)


peak_legend = alt.Legend(
    title=None, orient="none", legendX=2096, legendY=458, rowPadding=1, zindex=2,
    fillColor=LEG_FILL, padding=3, labelFont=FONT, labelFontSize=9.5, labelColor="black",
    symbolType="circle", symbolSize=25, clipHeight=11, symbolOffset=8.6, labelOffset=14,
    symbolOpacity=1, symbolStrokeWidth=0)
avg_legend = alt.Legend(
    title=None, orient="none", legendX=2182, legendY=458, rowPadding=1, zindex=1,
    fillColor=LEG_FILL, padding=3, labelFont=FONT, labelFontSize=9.5, labelColor="black",
    symbolType="stroke", symbolSize=480, clipHeight=11, symbolOffset=10.6, labelOffset=8,
    symbolStrokeWidth=3.5, symbolOpacity=1)
bot_legend = alt.Legend(
    title=None, orient="none", legendX=2218, legendY=458, rowPadding=1,
    fillColor=LEG_FILL, strokeColor=LEG_STROKE, cornerRadius=3, padding=3,
    labelFont=FONT, labelFontSize=9, labelColor="black", symbolType="stroke", symbolSize=480,
    clipHeight=11, symbolOffset=-3, labelOffset=2, symbolStrokeWidth=3.5, symbolOpacity=1)

# ---------------- top panel ----------------
peaks = alt.Chart(peaks_df).mark_circle(size=9, opacity=1).encode(
    x=alt.X("t:Q", scale=XS, axis=x_axis(":00")),
    y=alt.Y("v:Q", scale=YS, axis=y_axis("left")),
    color=alt.Color("s:N", scale=alt.Scale(domain=PEAK_DOMAIN, range=PEAK_RANGE), legend=peak_legend),
)
top_lines = alt.Chart(top_lines_df).mark_line(strokeWidth=1.4).encode(
    x=alt.X("t:Q", scale=XS, axis=None),
    y=alt.Y("v:Q", scale=YS, axis=y_axis("right")),
    color=alt.Color("s:N", scale=alt.Scale(domain=AVG_DOMAIN, range=AVG_RANGE), legend=avg_legend),
)
top = alt.layer(peaks, top_lines).resolve_axis(x="independent", y="independent").resolve_scale(
    color="independent").properties(
    width=2284, height=504,
    title=alt.TitleParams("average and peak noise level (1 min sampling)", anchor="start", frame="group",
                          font=FONT, fontSize=11, fontWeight="bold", color="black", offset=3),
)

# ---------------- bottom panel ----------------
env_band = alt.Chart(env_df).mark_area(color=ENV_COLOR, opacity=0.3).encode(
    x=alt.X("t:Q", scale=XS, axis=x_axis(":00:00")),
    y=alt.Y("lo:Q", scale=YS, axis=y_axis("left")),
    y2="hi:Q",
)
env_spikes = alt.Chart(env_sp_df).mark_rule(color=ENV_COLOR, opacity=0.55, strokeWidth=1).encode(
    x=alt.X("t:Q", scale=XS, axis=None),
    y=alt.Y("base:Q", scale=YS, axis=None),
    y2="peak:Q",
)
bot_lines = alt.Chart(bot_lines_df).mark_line(strokeWidth=1.8).encode(
    x=alt.X("t:Q", scale=XS, axis=None),
    y=alt.Y("v:Q", scale=YS, axis=y_axis("right")),
    color=alt.Color("s:N", scale=alt.Scale(domain=BOT_DOMAIN, range=BOT_RANGE), legend=bot_legend,
                    sort=BOT_DOMAIN),
)
bottom = alt.layer(env_band, env_spikes, bot_lines).resolve_axis(x="independent", y="independent").properties(
    width=2284, height=504,
    title=alt.TitleParams("average noise level (5 min with 15s min/max dB envelope)", anchor="start",
                          frame="group", font=FONT, fontSize=11, fontWeight="bold", color="black", offset=3),
)

chart = alt.vconcat(top, bottom, spacing=0).resolve_scale(color="independent").properties(
    title=alt.TitleParams(["data from [421/mic0]", "starting point is [20251012_000018]"], anchor="start",
                          frame="bounds", font=FONT, fontSize=13, fontWeight="bold", color="black",
                          lineHeight=15, offset=23, dx=11),
    padding={"left": 5, "top": 6, "right": 2, "bottom": 3},
).configure(font=FONT).configure_view(fill=BG, stroke="black", strokeWidth=1.5)

chart.save("out.html", embed_options={"renderer": "svg", "actions": False})
